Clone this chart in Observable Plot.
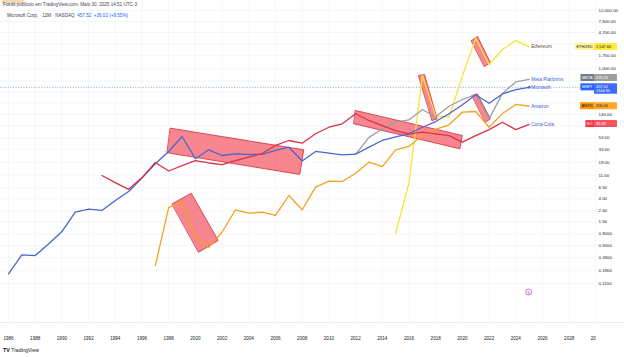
<!DOCTYPE html>
<html><head><meta charset="utf-8">
<script src="https://cdn.jsdelivr.net/npm/d3@7"></script>
<script src="https://cdn.jsdelivr.net/npm/@observablehq/plot@0.6"></script>
<style>
body{margin:0;background:#fff;}
#wrap{position:relative;width:624px;height:357px;overflow:hidden;font-family:"Liberation Sans",Arial,sans-serif;}
#chart svg{display:block;}
#h1{position:absolute;left:3px;top:2px;font-size:4.6px;color:#434651;white-space:nowrap;}
#h2{position:absolute;left:7px;top:12.5px;font-size:4.6px;color:#434651;white-space:nowrap;}
#logo{position:absolute;left:3px;top:347px;font-size:5px;color:#131722;white-space:nowrap;}
</style></head><body>
<div id="wrap"><div id="chart"></div>
<div id="h1">Fosdit publicou em TradingView.com, Maio 30, 2025 14:51 UTC-3</div>
<div id="h2">Microsoft Corp. · 12M · NASDAQ &nbsp;<span style="color:#2962ff">457.52 &nbsp;+36.02 (+8.55%)</span></div>
<div id="logo"><b style="font-size:5.5px">TV</b> TradingView</div>
</div>
<script>
// ---- data (yearly closes) ----
const msftYears = [1986,1987,1988,1989,1990,1991,1992,1993,1994,1995,1996,1997,1998,1999,2000,2001,2002,2003,2004,2005,2006,2007,2008,2009,2010,2011,2012,2013,2014,2015,2016,2017,2018,2019,2020,2021,2022,2023,2024,2025];
const msftValues = [0.166,0.37,0.36,0.59,1.0,2.27,2.58,2.45,3.74,5.48,9.7,17.8,30,56.7,22,32.2,25.3,27.2,26.4,26.5,31.3,36,20,30,27.9,26,26.7,36,47.9,56,63.6,84,107,149,218,334,233,345,415,457.52];
const koYears = [1993,1994,1995,1996,1997,1998,1999,2000,2001,2002,2003,2004,2005,2006,2007,2008,2009,2010,2011,2012,2013,2014,2015,2016,2017,2018,2019,2020,2021,2022,2023,2024,2025];
const koValues = [10.8,8.0,6.0,9.9,18.8,13.1,16.5,20.4,18.4,17.2,20.4,23.5,27.5,38.7,47.8,42.7,63.6,84,97,149,112,90,73,63.6,68,63.6,59,44.5,59,76,104,76,94.5];
const amznYears = [1997,1998,1999,2000,2001,2002,2003,2004,2005,2006,2007,2008,2009,2010,2011,2012,2013,2014,2015,2016,2017,2018,2019,2020,2021,2022,2023,2024,2025];
const amznValues = [0.236,2.8,3.48,0.79,0.51,0.97,2.52,2.18,2.27,1.98,4.62,2.52,6.58,8.5,8.4,11.9,19.0,15.8,32.2,37.1,60,77,93,160,164,84,150,221,205.0];
const metaYears = [2012,2013,2014,2015,2016,2017,2018,2019,2020,2021,2022,2023,2024,2025];
const metaValues = [26.6,54.7,78,104.7,115,176.5,131,205,273,336,120,354,575,640];
const ethYears = [2015,2016,2017,2018,2019,2020,2021,2022,2023,2024,2025];
const ethValues = [0.93,7.97,756,133,130,737,3683,1196,2282,3332,2547.6];

const seriesNames = ["Ethereum","Meta Platforms","Microsoft","Amazon","Coca-Cola"];
const seriesColors = ["#f7e33a","#9e9e9e","#4a66cf","#f5a11f","#dc3148"];
const tagSymbols = ["ETHUSD","META","MSFT","AMZN","KO"];
const tagPrices = ["2,547.60","679.26","457.52","205.00","95.93"];
const tagSub = ["","","214d 9h","",""];

const yTicks = [0.11,0.19,0.33,0.55,0.9,1.5,2.4,4,6.5,11,19,33,53,88,145,235,380,600,1000,1750,2900,4700,7500,12000];
const yTickLabels = [0.11,0.19,0.33,0.55,0.9,1.5,2.4,4,6.5,11,19,33,53,145,1000,1750,4700,7500,12000]; // those not hidden behind the price tags
const xTicks = [1986,1988,1990,1992,1994,1996,1998,2000,2002,2004,2006,2008,2010,2012,2014,2016,2018,2020,2022,2024,2026,2028,2030];

// highlight boxes drawn on the chart (corners as [year, price])
const boxCorners = [
  [[1998.13,80.7],[2008.12,32.2],[2007.82,11.3],[1997.89,28.4]],
  [[1998.26,3.25],[1999.69,5.10],[2001.71,0.684],[2000.25,0.416]],
  [[2011.99,171],[2019.99,59.2],[2019.81,33.6],[2011.87,97.3]],
  [[2016.73,757],[2017.16,790],[2018.11,120],[2017.74,112]],
  [[2020.68,3347],[2021.13,3967],[2022.10,1316],[2021.66,1110]],
  [[2020.73,324],[2021.11,348],[2022.10,120],[2021.73,104]]
];

// ---- build tables ----
const seriesYears = [ethYears, metaYears, msftYears, amznYears, koYears];
const seriesValues = [ethValues, metaValues, msftValues, amznValues, koValues];
const rows = [];
seriesNames.forEach((n,i)=>seriesYears[i].forEach((yr,j)=>rows.push({name:n, year:yr, value:seriesValues[i][j]})));
const lastRows = seriesNames.map((n,i)=>({name:n, year:seriesYears[i].at(-1), value:seriesValues[i].at(-1), sym:tagSymbols[i], price:tagPrices[i], sub:tagSub[i]}));
const boxRows = [];
boxCorners.forEach((c,i)=>c.forEach(([yr,v])=>boxRows.push({id:i, year:yr, value:v})));

const fmt = v => v < 1 ? v.toFixed(4) : d3.format(",.2f")(v);
const W = 624, H = 357;
const FONT = "Liberation Sans, Arial, sans-serif";

const plot = Plot.plot({
  width: W, height: H,
  marginLeft: 0, marginRight: 28, marginTop: 0, marginBottom: 35,
  style: {fontFamily: FONT, fontSize: "4.4px", background: "#fff", color: "#131722"},
  x: {domain: [1985.4007, 2030.045], axis: null, label: null},
  y: {type: "log", domain: [0.02098, 18300], axis: null, label: null},
  color: {domain: seriesNames, range: seriesColors},
  marks: [
    Plot.gridX(xTicks, {stroke: "#eef0f5", strokeOpacity: 1, strokeWidth: 0.6}),
    Plot.gridY(yTicks, {stroke: "#eef0f5", strokeOpacity: 1, strokeWidth: 0.6}),
    Plot.ruleY([msftValues.at(-1)], {stroke: "#4a66cf", strokeWidth: 0.6, strokeDasharray: "1 1.6"}),
    Plot.line(boxRows, {x: "year", y: "value", z: "id", curve: "linear-closed", fill: "#f23645", fillOpacity: 0.6, stroke: "#d42a3c", strokeWidth: 0.8}),
    Plot.line(rows, {x: "year", y: "value", z: "name", stroke: "name", strokeWidth: 1.3}),
    Plot.dot(lastRows.filter(d=>d.name==="Microsoft"), {x: "year", y: "value", r: 1.4, fill: "#4a66cf"}),
    Plot.axisX(xTicks, {anchor: "bottom", label: null, tickSize: 0, tickPadding: 14, tickFormat: d => String(d), fontSize: 4.6, fill: "#131722"}),
    Plot.text(yTickLabels, {y: d => d, text: fmt, frameAnchor: "right", dx: 2, textAnchor: "start", fontSize: 4.4, fill: "#131722"}),
    Plot.text(lastRows, {x: "year", y: "value", text: "name", dx: 2, textAnchor: "start", fontSize: 4.8, fill: d => d.name==="Ethereum" ? "#5d4a36" : "#3e5fd0"})
  ]
});
document.getElementById("chart").appendChild(plot);

// ---- overlays placed through the plot's own scales ----
const svg = d3.select(plot);
const ys = plot.scale("y"), xs = plot.scale("x");
const frameRight = xs.apply(2030.045);
const frameBottom = ys.apply(0.02098);
svg.append("line").attr("x1",0).attr("x2",W).attr("y1",frameBottom+0.5).attr("y2",frameBottom+0.5).attr("stroke","#e0e3eb").attr("stroke-width",0.6);
svg.append("rect").attr("x",frameRight).attr("y",frameBottom+1).attr("width",W-frameRight).attr("height",20).attr("fill","#fff");
// Ethereum label background
svg.selectAll("text").filter(function(){return this.textContent==="Ethereum";}).each(function(){
  const b = this.getBBox();
  d3.select(this.parentNode).insert("rect", () => this).attr("x",b.x-1).attr("y",b.y-0.6).attr("width",b.width+2).attr("height",b.height+1.2).attr("fill","#f6d8b6");
});
// price tags on the right (symbol + price in one text line)
const tg = svg.append("g").style("font-size","3.9px").style("font-family",FONT);
const tagStyle = {ETHUSD:["#fff59d","#ffeb3b","#131722"], META:["#787b86","#9e9e9e","#fff"], MSFT:["#2962ff","#3d6bff","#fff"], AMZN:["#ff9800","#ffa726","#131722"], KO:["#f23645","#f7525f","#fff"]};
const priceX = frameRight - 2;
lastRows.forEach(d=>{
  const cy = ys.apply(+d.price.replace(/,/g,""));
  const st = tagStyle[d.sym];
  const h = d.sub ? 10.5 : 7;
  const top = cy - 3.5;
  const g = tg.append("g");
  const nameRect = g.append("rect").attr("y",top).attr("height",7).attr("fill",st[0]);
  g.append("rect").attr("x",priceX).attr("y",top).attr("width",W-7-priceX).attr("height",h).attr("fill",st[1]).attr("rx",0.6);
  const t = g.append("text").attr("y",cy+1.4).attr("fill",st[2]);
  t.append("tspan").attr("x",priceX-1.5).attr("text-anchor","end").text(d.sym);
  t.append("tspan").attr("x",priceX+2).attr("text-anchor","start").text(d.price);
  if (d.sub) t.append("tspan").attr("x",priceX+2).attr("dy",4.2).attr("text-anchor","start").text(d.sub);
  const b = t.node().getBBox();
  nameRect.attr("x",b.x-1.5).attr("width",priceX-b.x+1.5);
});
// events icon near the bottom of the pane
const ix = xs.apply(2025), iy = ys.apply(0.075);
svg.append("circle").attr("cx",ix).attr("cy",iy).attr("r",3).attr("fill","#fff").attr("stroke","#9c27b0").attr("stroke-width",0.6);
svg.append("text").attr("x",ix).attr("y",iy+1.5).attr("text-anchor","middle").attr("font-size","4px").attr("fill","#9c27b0").text("6");
</script>
</body></html>
